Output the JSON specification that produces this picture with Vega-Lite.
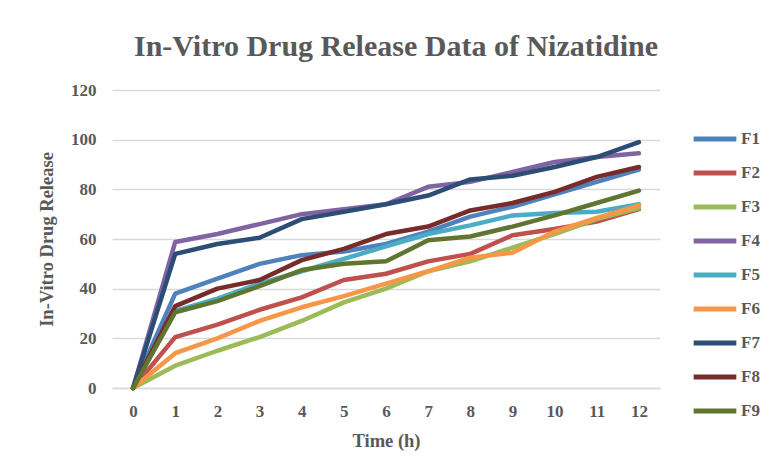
{
  "$schema": "https://vega.github.io/schema/vega-lite/v6.json",
  "autosize": {"type": "none"},
  "padding": {"left": 112, "top": 90, "right": 112, "bottom": 85},
  "width": 548,
  "height": 298,
  "background": "white",
  "title": {
    "text": "In-Vitro Drug Release Data of Nizatidine",
    "font": "Liberation Serif",
    "fontSize": 30,
    "fontWeight": "bold",
    "color": "#595959",
    "anchor": "middle",
    "dx": 10,
    "offset": 19
  },
  "data": {
    "values": [
      {"t": 0, "F1": 0, "F2": 0, "F3": 0, "F4": 0, "F5": 0, "F6": 0, "F7": 0, "F8": 0, "F9": 0},
      {"t": 1, "F1": 38, "F2": 20.5, "F3": 9, "F4": 58.8, "F5": 31, "F6": 14, "F7": 54, "F8": 33, "F9": 30.5},
      {"t": 2, "F1": 44, "F2": 25.5, "F3": 15, "F4": 62, "F5": 36, "F6": 20, "F7": 58, "F8": 40, "F9": 35},
      {"t": 3, "F1": 50, "F2": 31.5, "F3": 20.5, "F4": 66, "F5": 42, "F6": 27, "F7": 60.5, "F8": 43.5, "F9": 41},
      {"t": 4, "F1": 53.5, "F2": 36.5, "F3": 27, "F4": 70, "F5": 47, "F6": 32.5, "F7": 68, "F8": 51.5, "F9": 47.5},
      {"t": 5, "F1": 55, "F2": 43.5, "F3": 34.5, "F4": 72, "F5": 52, "F6": 37, "F7": 71, "F8": 56, "F9": 50},
      {"t": 6, "F1": 58, "F2": 46, "F3": 40, "F4": 74, "F5": 57, "F6": 42, "F7": 74, "F8": 62, "F9": 51},
      {"t": 7, "F1": 63, "F2": 51, "F3": 47, "F4": 81, "F5": 62, "F6": 47, "F7": 77.5, "F8": 65, "F9": 59.5},
      {"t": 8, "F1": 69, "F2": 54, "F3": 51, "F4": 83, "F5": 65.5, "F6": 52.5, "F7": 84, "F8": 71.5, "F9": 61},
      {"t": 9, "F1": 73, "F2": 61.5, "F3": 56.5, "F4": 87, "F5": 69.5, "F6": 54.5, "F7": 85.5, "F8": 74.5, "F9": 65},
      {"t": 10, "F1": 78, "F2": 64, "F3": 62, "F4": 91, "F5": 70.5, "F6": 63, "F7": 89, "F8": 79, "F9": 69.5},
      {"t": 11, "F1": 83, "F2": 67, "F3": 68, "F4": 93, "F5": 71, "F6": 68.5, "F7": 93, "F8": 85, "F9": 74.5},
      {"t": 12, "F1": 88, "F2": 72, "F3": 72.5, "F4": 94.5, "F5": 74, "F6": 73.5, "F7": 99, "F8": 89, "F9": 79.5}
    ]
  },
  "transform": [
    {"fold": ["F1", "F2", "F3", "F4", "F5", "F6", "F7", "F8", "F9"], "as": ["series", "value"]}
  ],
  "mark": {"type": "line", "strokeWidth": 4.5, "strokeCap": "round", "strokeJoin": "round"},
  "encoding": {
    "x": {
      "field": "t",
      "type": "ordinal",
      "scale": {"type": "point", "padding": 0.5},
      "axis": {
        "title": "Time (h)",
        "labelAngle": 0,
        "grid": false,
        "ticks": false,
        "domain": true,
        "domainColor": "#d9d9d9",
        "domainWidth": 1.5,
        "labelPadding": 15,
        "titlePadding": 12
      }
    },
    "y": {
      "field": "value",
      "type": "quantitative",
      "scale": {"domain": [0, 120], "nice": false},
      "axis": {
        "title": "In-Vitro Drug Release",
        "values": [0, 20, 40, 60, 80, 100, 120],
        "grid": true,
        "gridColor": "#d9d9d9",
        "gridWidth": 1.5,
        "domain": false,
        "ticks": false,
        "labelPadding": 16,
        "titlePadding": 14
      }
    },
    "color": {
      "field": "series",
      "type": "nominal",
      "scale": {
        "domain": ["F1", "F2", "F3", "F4", "F5", "F6", "F7", "F8", "F9"],
        "range": ["#4F81BD", "#C0504D", "#9BBB59", "#8064A2", "#4BACC6", "#F79646", "#2C4D75", "#772C2A", "#5F7530"]
      },
      "legend": {
        "title": null,
        "orient": "none",
        "legendX": 579,
        "legendY": 25,
        "symbolType": "stroke",
        "symbolStrokeWidth": 5,
        "symbolSize": 1820,
        "rowPadding": 0,
        "labelOffset": 2,
        "labelFont": "Liberation Serif",
        "labelFontSize": 17,
        "labelFontWeight": "bold",
        "labelColor": "#595959"
      }
    }
  },
  "config": {
    "axis": {
      "labelFont": "Liberation Serif",
      "labelFontSize": 17,
      "labelFontWeight": "bold",
      "labelColor": "#595959",
      "titleFont": "Liberation Serif",
      "titleFontSize": 18.5,
      "titleFontWeight": "bold",
      "titleColor": "#595959"
    },
    "view": {"stroke": null}
  }
}
